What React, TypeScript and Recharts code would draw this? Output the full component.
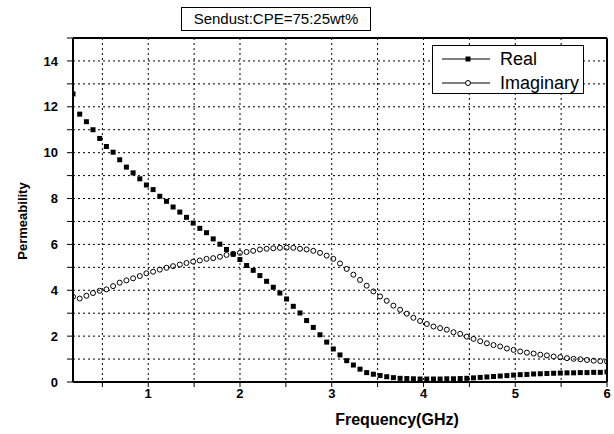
import { ComposedChart, Line, XAxis, YAxis, CartesianGrid, ReferenceLine, Legend, Label } from "recharts";

const FONT = "'Liberation Sans', Arial, sans-serif";

// frequency (GHz) of each measured point
const FREQ = [
  0.180, 0.253, 0.326, 0.398, 0.471, 0.544, 0.617, 0.689, 0.762, 0.835,
  0.908, 0.980, 1.053, 1.126, 1.199, 1.271, 1.344, 1.417, 1.490, 1.562,
  1.635, 1.708, 1.781, 1.853, 1.926, 1.999, 2.072, 2.144, 2.217, 2.290,
  2.363, 2.435, 2.508, 2.581, 2.654, 2.726, 2.799, 2.872, 2.945, 3.017,
  3.090, 3.163, 3.236, 3.308, 3.381, 3.454, 3.527, 3.599, 3.672, 3.745,
  3.818, 3.890, 3.963, 4.036, 4.109, 4.181, 4.254, 4.327, 4.400, 4.472,
  4.545, 4.618, 4.691, 4.763, 4.836, 4.909, 4.982, 5.054, 5.127, 5.200,
  5.273, 5.345, 5.418, 5.491, 5.564, 5.636, 5.709, 5.782, 5.855, 5.927,
  6.000,
];

const REAL = [
  12.56, 11.68, 11.35, 11.0, 10.62, 10.27, 10.02, 9.69, 9.37, 9.12,
  8.86, 8.59, 8.39, 8.1, 7.88, 7.63, 7.41, 7.18, 6.93, 6.7,
  6.51, 6.24, 6.01, 5.78, 5.57, 5.34, 5.08, 4.87, 4.64, 4.39,
  4.13, 3.88, 3.62, 3.3, 3.01, 2.68, 2.38, 2.06, 1.74, 1.44,
  1.18, 0.93, 0.74, 0.56, 0.41, 0.34, 0.28, 0.23, 0.19, 0.16,
  0.15, 0.14, 0.13, 0.13, 0.13, 0.13, 0.14, 0.14, 0.15, 0.16,
  0.18, 0.2, 0.22, 0.24, 0.26, 0.28, 0.3, 0.32, 0.33, 0.35,
  0.36, 0.37, 0.38, 0.39, 0.4, 0.4, 0.41, 0.41, 0.42, 0.42,
  0.44,
];

const IMAG = [
  3.72, 3.64, 3.76, 3.88, 3.98, 4.04, 4.18, 4.33, 4.43, 4.52,
  4.62, 4.74, 4.81, 4.9, 4.98, 5.05, 5.12, 5.19, 5.25, 5.3,
  5.37, 5.4, 5.46, 5.54, 5.59, 5.63, 5.67, 5.72, 5.78, 5.81,
  5.83, 5.85, 5.86, 5.85, 5.81, 5.78, 5.72, 5.63, 5.51, 5.37,
  5.17, 4.93, 4.68, 4.45, 4.2, 3.95, 3.73, 3.54, 3.33, 3.15,
  2.98, 2.8, 2.66, 2.53, 2.42, 2.35, 2.28, 2.17, 2.1, 1.98,
  1.88, 1.78, 1.69, 1.61, 1.55, 1.46, 1.4, 1.33, 1.28, 1.24,
  1.19, 1.16, 1.11, 1.08, 1.04, 1.01, 0.99, 0.96, 0.93, 0.91,
  0.89,
];

const X_TICKS = [0.5, 1, 1.5, 2, 2.5, 3, 3.5, 4, 4.5, 5, 5.5, 6];
const Y_TICKS = [0, 1, 2, 3, 4, 5, 6, 7, 8, 9, 10, 11, 12, 13, 14, 15];

const data = FREQ.map((f, i) => ({ f, real: REAL[i], imag: IMAG[i] }));

function SquareDot(p: any) {
  if (p.cx == null || p.cy == null) return <g key={p.index} />;
  return <rect key={p.index} x={p.cx - 2.5} y={p.cy - 2.5} width={5} height={5} fill="#000" />;
}

function CircleDot(p: any) {
  if (p.cx == null || p.cy == null) return <g key={p.index} />;
  return <circle key={p.index} cx={p.cx} cy={p.cy} r={2.5} fill="none" stroke="#000" strokeWidth={1} />;
}

function LegendBox() {
  const row = (label: string, filled: boolean) => (
    <div style={{ display: "flex", alignItems: "center", height: 24 }}>
      <svg width={58} height={12} style={{ flex: "none" }}>
        <line x1={0} y1={6} x2={48} y2={6} stroke="#000" strokeWidth={1} />
        {filled
          ? <rect x={23.5} y={3.5} width={5} height={5} fill="#000" />
          : <circle cx={26} cy={6} r={2.5} fill="#fff" stroke="#000" strokeWidth={1} />}
      </svg>
      <span style={{ fontSize: 18, lineHeight: "18px", color: "#000", whiteSpace: "nowrap" }}>{label}</span>
    </div>
  );
  return (
    <div style={{ width: 152, height: 49, boxSizing: "border-box", border: "1.5px solid #000", background: "#fff", padding: "1px 0 0 9px", fontFamily: FONT }}>
      {row("Real", true)}
      {row("Imaginary", false)}
    </div>
  );
}

const tickStyle = { fill: "#000", fontSize: 13, fontWeight: "bold" as const, fontFamily: FONT };

export default function App() {
  return (
    <div style={{ position: "absolute", left: 0, top: 0, width: 614, height: 434, background: "#fff", fontFamily: FONT }}>
      <div style={{ position: "absolute", left: 181, top: 7, width: 190, height: 24, boxSizing: "border-box", border: "1px solid #000", textAlign: "center", fontSize: 15, lineHeight: "22px", color: "#000", zIndex: 2 }}>
        Sendust:CPE=75:25wt%
      </div>
      <ComposedChart width={614} height={434} data={data} margin={{ top: 38, right: 7, bottom: 12, left: 13 }}>
        <CartesianGrid stroke="#000" strokeDasharray="2 3" strokeWidth={1} />
        <XAxis
          type="number"
          dataKey="f"
          domain={[0.18, 6]}
          allowDataOverflow
          ticks={X_TICKS}
          tickFormatter={(v) => (Number.isInteger(v) ? String(v) : "")}
          tick={tickStyle}
          tickSize={5}
          tickMargin={2}
          height={40}
          axisLine={{ stroke: "#000", strokeWidth: 2 }}
          tickLine={{ stroke: "#000" }}
        >
          <Label content={() => (
            <text x={397} y={425} textAnchor="middle" fontSize={16} fontWeight="bold" fontFamily={FONT} fill="#000">Frequency(GHz)</text>
          )} />
        </XAxis>
        <YAxis
          type="number"
          domain={[0, 15]}
          ticks={Y_TICKS}
          tickFormatter={(v) => (v % 2 === 0 && v < 15 ? String(v) : "")}
          tick={tickStyle}
          tickSize={6}
          tickMargin={9}
          width={60}
          axisLine={{ stroke: "#000", strokeWidth: 2 }}
          tickLine={{ stroke: "#000" }}
        >
          <Label content={() => (
            <text x={27} y={221} transform="rotate(-90 27 221)" textAnchor="middle" fontSize={13} fontWeight="bold" fontFamily={FONT} fill="#000">Permeability</text>
          )} />
        </YAxis>
        <ReferenceLine y={15} stroke="#000" strokeWidth={2} />
        <ReferenceLine x={6} stroke="#000" strokeWidth={2} />
        <Legend
          layout="vertical"
          align="center"
          verticalAlign="middle"
          content={() => <LegendBox />}
          wrapperStyle={{ left: 432, top: 45, width: 152, height: 49 }}
        />
        <Line dataKey="real" name="Real" stroke="none" dot={SquareDot} activeDot={false} isAnimationActive={false} />
        <Line dataKey="imag" name="Imaginary" stroke="none" dot={CircleDot} activeDot={false} isAnimationActive={false} />
      </ComposedChart>
    </div>
  );
}
